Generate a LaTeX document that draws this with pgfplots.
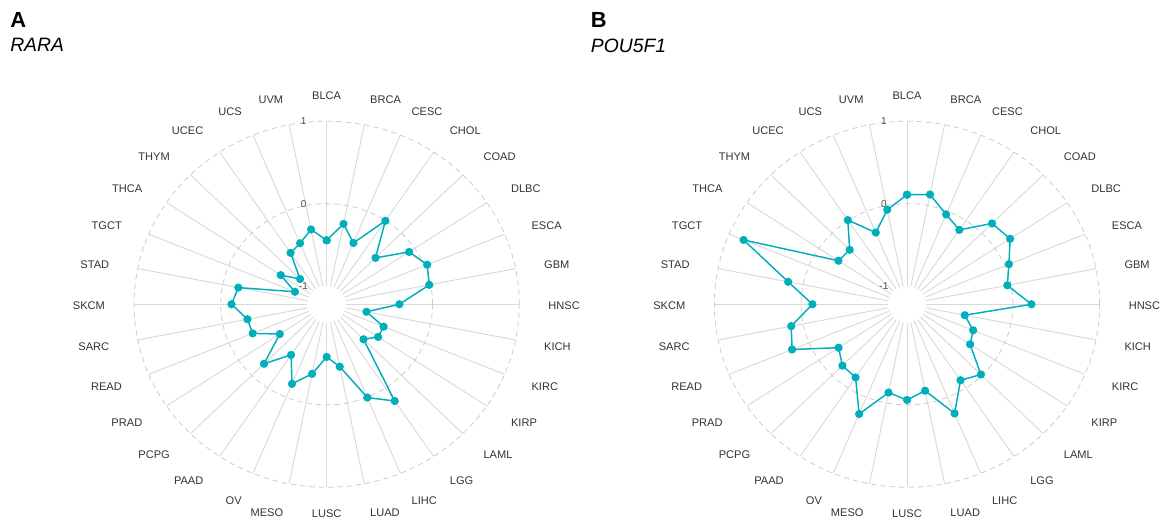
\documentclass[border=0pt]{standalone}
\usepackage{pgfplots}
\pgfplotsset{compat=1.18}
\usepackage{pgfplotstable}
\usepackage{fontspec}
\setmainfont{Liberation Sans}

\definecolor{teal1}{HTML}{00AFBB}
\definecolor{spokec}{HTML}{D9D9D9}
\definecolor{circc}{HTML}{CCCCCC}
\definecolor{labc}{HTML}{333333}

% idx: category index (clockwise from top), v: value
\pgfplotstableread{
idx v
0 -0.446
1 -0.227
2 -0.416
3 -0.003
4 -0.426
5 -0.078
6 0.033
7 -0.015
8 -0.383
9 -0.754
10 -0.511
11 -0.508
12 -0.621
13 0.191
14 0.004
15 -0.449
16 -0.582
17 -0.361
18 -0.176
19 -0.483
20 -0.200
21 -0.572
22 -0.298
23 -0.290
24 -0.124
25 -0.183
26 -0.826
27 -0.585
28 -0.788
29 -0.472
30 -0.420
31 -0.296
32 -0.446
}\rara

\pgfplotstableread{
idx v
0 0.108
1 0.137
2 -0.042
3 -0.136
4 0.166
5 0.209
6 0.051
7 -0.042
8 0.214
9 -0.543
10 -0.396
11 -0.347
12 -0.016
13 -0.112
14 0.213
15 -0.152
16 -0.060
17 -0.129
18 0.221
19 -0.154
20 -0.168
21 -0.273
22 0.213
23 0.140
24 -0.131
25 0.176
26 0.819
27 -0.271
28 -0.287
29 0.007
30 -0.280
31 -0.052
32 0.108
}\pou

% #1 index, #2 name, #3 anchor, #4 vertical shift
\newcommand{\lab}[4]{\node[anchor=#3, inner sep=0pt, yshift=#4, font=\fontsize{8.3}{9}\selectfont, text=labc] at (axis cs:{1.15*cos(90-#1*11.25)},{1.15*sin(90-#1*11.25)}) {#2};}

\newcommand{\radarbase}{%
  \pgfplotsinvokeforeach{0,...,31}{%
    \draw[spokec, line width=0.7pt] (axis cs:{0.1*cos(90-##1*11.25)},{0.1*sin(90-##1*11.25)}) -- (axis cs:{cos(90-##1*11.25)},{sin(90-##1*11.25)});
  }
  \draw[circc, line width=0.6pt, dash pattern=on 4pt off 3pt] (axis cs:0,0) ellipse [x radius=144.45pt, y radius=137.25pt];
  \draw[circc, line width=0.6pt, dash pattern=on 4pt off 3pt] (axis cs:0,0) ellipse [x radius=79.45pt, y radius=75.49pt];
  \lab{0}{BLCA}{center}{-1.2pt}
  \lab{1}{BRCA}{west}{-1.2pt}
  \lab{2}{CESC}{west}{-1.2pt}
  \lab{3}{CHOL}{west}{-1.2pt}
  \lab{4}{COAD}{west}{-1.2pt}
  \lab{5}{DLBC}{west}{-1.2pt}
  \lab{6}{ESCA}{west}{-1.2pt}
  \lab{7}{GBM}{west}{-1.2pt}
  \lab{8}{HNSC}{west}{-1.2pt}
  \lab{9}{KICH}{west}{-1.2pt}
  \lab{10}{KIRC}{west}{-1.2pt}
  \lab{11}{KIRP}{west}{-1.2pt}
  \lab{12}{LAML}{west}{-1.2pt}
  \lab{13}{LGG}{west}{-1.2pt}
  \lab{14}{LIHC}{west}{-1.2pt}
  \lab{15}{LUAD}{west}{-1.2pt}
  \lab{16}{LUSC}{center}{0.6pt}
  \lab{17}{MESO}{east}{-1.2pt}
  \lab{18}{OV}{east}{-1.2pt}
  \lab{19}{PAAD}{east}{-1.2pt}
  \lab{20}{PCPG}{east}{-1.2pt}
  \lab{21}{PRAD}{east}{-1.2pt}
  \lab{22}{READ}{east}{-1.2pt}
  \lab{23}{SARC}{east}{-1.2pt}
  \lab{24}{SKCM}{east}{-1.2pt}
  \lab{25}{STAD}{east}{-1.2pt}
  \lab{26}{TGCT}{east}{-1.2pt}
  \lab{27}{THCA}{east}{-1.2pt}
  \lab{28}{THYM}{east}{-1.2pt}
  \lab{29}{UCEC}{east}{-1.2pt}
  \lab{30}{UCS}{east}{-1.2pt}
  \lab{31}{UVM}{east}{-1.2pt}
}

\newcommand{\gridlabs}{%
  \node[inner sep=0pt, font=\fontsize{7.5}{8}\selectfont, text=black!70] at (axis cs:-0.12,1) {1};
  \node[inner sep=0pt, font=\fontsize{7.5}{8}\selectfont, text=black!70] at (axis cs:-0.12,0.55) {0};
  \node[inner sep=0pt, font=\fontsize{7.5}{8}\selectfont, text=black!70] at (axis cs:-0.12,0.1) {-1};
}

\pgfplotsset{radar/.style={
  hide axis, clip=false, anchor=center,
  x=144.45pt, y=137.25pt,
  xmin=-1.6, xmax=1.6, ymin=-1.3, ymax=1.3,
}}

\begin{document}
\begin{tikzpicture}
\path[use as bounding box, clip] (0,0) rectangle (873.75pt,-390pt);

\node[anchor=base west, inner sep=0pt, font=\bfseries\fontsize{16.4}{18}\selectfont] at (7.5pt,-21pt) {A};
\node[anchor=base west, inner sep=0pt, font=\itshape\fontsize{14.5}{16}\selectfont] at (7.5pt,-39pt) {RARA};
\node[anchor=base west, inner sep=0pt, font=\bfseries\fontsize{16.4}{18}\selectfont] at (443pt,-21pt) {B};
\node[anchor=base west, inner sep=0pt, font=\itshape\fontsize{14.5}{16}\selectfont] at (443pt,-39.2pt) {POU5F1};

\begin{axis}[radar, at={(245pt,-228.2pt)}]
\radarbase
\addplot[teal1, line width=1.1pt, mark=*, mark size=2.5pt, mark options={fill=teal1, draw=teal1}]
  table[x expr={(\thisrow{v}+1.2222)/2.2222*cos(90-\thisrow{idx}*11.25)}, y expr={(\thisrow{v}+1.2222)/2.2222*sin(90-\thisrow{idx}*11.25)}] {\rara};
\gridlabs
\end{axis}

\begin{axis}[radar, at={(680.25pt,-228.2pt)}]
\radarbase
\addplot[teal1, line width=1.1pt, mark=*, mark size=2.5pt, mark options={fill=teal1, draw=teal1}]
  table[x expr={(\thisrow{v}+1.2222)/2.2222*cos(90-\thisrow{idx}*11.25)}, y expr={(\thisrow{v}+1.2222)/2.2222*sin(90-\thisrow{idx}*11.25)}] {\pou};
\gridlabs
\end{axis}
\end{tikzpicture}
\end{document}
